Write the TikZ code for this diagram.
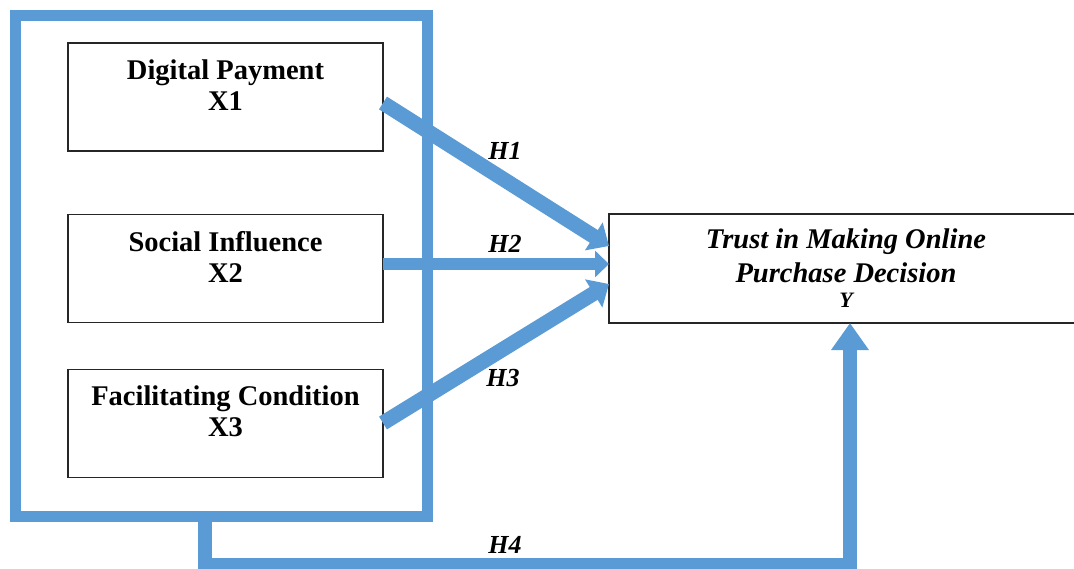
\documentclass[tikz,border=0pt]{standalone}
\usepackage{fontspec}
\setmainfont{Liberation Serif}
\usetikzlibrary{arrows.meta}
\definecolor{linkblue}{HTML}{5B9BD5}

\begin{document}
\begin{tikzpicture}[x=1pt,y=-1pt]
        \tikzset{>={Triangle[length=18pt,width=32pt]}}
        \tikzset{
          varbox/.style={rectangle,draw=black!85,line width=1.3pt,minimum width=315pt,minimum height=108pt,inner sep=0pt,outer sep=0pt},
          vartext/.style={anchor=north,align=center,inner sep=0pt,font=\fontsize{28.5}{31}\selectfont\bfseries},
          frame/.style={rectangle,draw=linkblue,line width=11pt,minimum width=412pt,minimum height=501pt,inner sep=0pt,outer sep=0pt},
          link/.style={->,draw=linkblue,line width=15pt},
          hyp/.style={inner sep=0pt,font=\fontsize{26}{31}\selectfont\bfseries\itshape}
        }
        \useasboundingbox (0,0) rectangle (1074,568);

        \node[frame] (frame) at (221.75,266.25) {};

        \node[varbox,fill=white] (x1) at (225.5,97) {};
        \node[varbox,fill=white] (x2) at (225.5,268.5) {};
        \node[varbox,fill=white] (x3) at (225.5,423.5) {};
        \node[varbox,minimum width=482pt,minimum height=109pt] (y) at (850,268.5) {};

        \node[vartext] (x1t) at (225.5,60) {Digital Payment\\X1};
        \node[vartext] (x2t) at (225.5,231) {Social Influence\\X2};
        \node[vartext] (x3t) at (225.5,386) {Facilitating Condition\\X3};
        \node[vartext,font=\fontsize{28.5}{34}\selectfont\bfseries\itshape] (yt) at (846,229)
          {Trust in Making Online\\Purchase Decision\\[-9pt]{\fontsize{22}{24}\selectfont Y}};

        \coordinate (h1s) at (383,103);
        \coordinate (h2s) at (383,264);
        \coordinate (h3s) at (383,423);
        \coordinate (drop) at (205,565);

        \draw[link] (h1s) to (y.west |- 0,246);
        \draw[link,line width=12pt,>={Triangle[length=14pt,width=26pt]}] (h2s) to (y.west |- 0,264);
        \draw[link] (h3s) to (y.west |- 0,284);
        \draw[link,line width=14pt,line join=miter,>={Triangle[length=27pt,width=36pt]}]
          (frame.south -| drop) -- (drop) -| (y.south);

        \node[hyp] (h1) at (505,151) {H1};
        \node[hyp] (h2) at (505,244) {H2};
        \node[hyp] (h3) at (503,378) {H3};
        \node[hyp] (h4) at (505,545) {H4};
    \end{tikzpicture}
\end{document}
